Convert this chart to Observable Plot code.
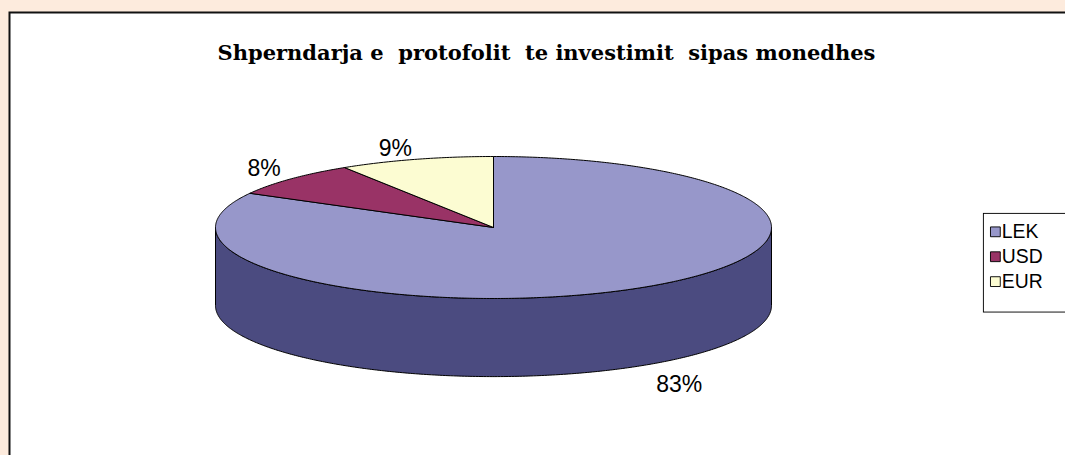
<!DOCTYPE html>
<html><head><meta charset="utf-8">
<script src="https://cdn.jsdelivr.net/npm/d3@7"></script>
<script src="https://cdn.jsdelivr.net/npm/@observablehq/plot@0.6"></script>
<style>
body{margin:0;background:#FDEBDD;}
#wrap{position:relative;width:1065px;height:455px;overflow:hidden;}
#chart svg{display:block;}
#legend{position:absolute;left:982px;top:212px;}
#legend svg{display:block;overflow:visible;}
</style></head><body><div id="wrap"><div id="chart"></div><div id="legend"></div></div>
<script>
const title = "Shperndarja e\u00a0 protofolit\u00a0 te investimit\u00a0 sipas monedhes";
const categories = ["LEK", "USD", "EUR"];
const values = [83, 8, 9];
const labels = ["83%", "8%", "9%"];
const topColors = ["#9797CA", "#993366", "#FCFCD2"];
const sideColors = ["#4B4B80", "#4D1A33", "#7E7E69"];

const DEPTH = 1.1;
const total = d3.sum(values);
let acc = 0;
const slices = categories.map((c, i) => {
  const a0 = acc / total * 2 * Math.PI; acc += values[i];
  const a1 = acc / total * 2 * Math.PI;
  return {cat: c, i, a0, a1, label: labels[i]};
});
function arc(a0, a1, off) {
  const n = Math.max(2, Math.ceil(Math.abs(a1 - a0) / 0.01));
  return d3.range(n + 1).map(k => { const a = a0 + (a1 - a0) * k / n; return {x: Math.sin(a), y: Math.cos(a) - off}; });
}
const tops = slices.map(s => ({i: s.i, pts: [{x: 0, y: 0}, ...arc(s.a0, s.a1, 0), {x: 0, y: 0}]}));
const sides = slices.map(s => {
  const lo = Math.max(s.a0, Math.PI / 2), hi = Math.min(s.a1, 3 * Math.PI / 2);
  if (hi <= lo) return null;
  const top = arc(lo, hi, 0), bot = arc(hi, lo, DEPTH);
  return {i: s.i, pts: [...top, ...bot, top[0]]};
}).filter(Boolean);
const labelPts = slices.map(s => {
  const m = (s.a0 + s.a1) / 2;
  const front = Math.cos(m) < 0;
  const k = front ? 1.15 : 1.05;
  let y = Math.cos(m) * k; if (front) y -= DEPTH;
  return {x: Math.sin(m) * k, y, label: s.label, left: Math.sin(m) < 0, front};
});
const labelMarks = [];
for (const left of [true, false]) for (const front of [true, false]) {
  labelMarks.push(Plot.text(labelPts.filter(d => d.left === left && d.front === front), {
    x: "x", y: "y", text: "label",
    textAnchor: left ? "end" : "start", lineAnchor: front ? "top" : "bottom",
    fontSize: 23, fontFamily: "Liberation Sans", fill: "#000"
  }));
}

const chart = Plot.plot({
  width: 1065, height: 455,
  marginLeft: 9, marginTop: 12, marginRight: -10, marginBottom: -10,
  x: {domain: [-1, 1], range: [215, 771], axis: null},
  y: {domain: [-1, 1], range: [298, 156], axis: null},
  style: {background: "#FDEBDD", overflow: "hidden"},
  marks: [
    Plot.frame({fill: "white", stroke: "#111", strokeWidth: 2}),
    Plot.text([title], {frameAnchor: "top", dx: 4, dy: 33, text: d => d, fontWeight: "bold", fontFamily: "DejaVu Serif", fontSize: 21, fill: "#000"}),
    ...sides.map(s => Plot.line(s.pts, {x: "x", y: "y", fill: sideColors[s.i], stroke: "#000", strokeWidth: 1})),
    ...tops.map(s => Plot.line(s.pts, {x: "x", y: "y", fill: topColors[s.i], stroke: "#000", strokeWidth: 1})),
    ...labelMarks
  ]
});
document.getElementById("chart").appendChild(chart);

const legend = Plot.plot({
  width: 90, height: 109,
  marginLeft: 1, marginTop: 1, marginBottom: 1, marginRight: -10,
  y: {type: "point", domain: categories, range: [21, 75], padding: 0, axis: null},
  color: {domain: categories, range: topColors},
  marks: [
    Plot.frame({fill: "white", stroke: "#000", strokeWidth: 1}),
    Plot.dot(categories, {y: d => d, frameAnchor: "left", dx: 13, symbol: "square", r: 6, fill: d => d, stroke: "#000", strokeWidth: 1}),
    Plot.text(categories, {y: d => d, text: d => d, frameAnchor: "left", dx: 20, textAnchor: "start", fontSize: 21, fontFamily: "Liberation Sans", fill: "#000"})
  ]
});
document.getElementById("legend").appendChild(legend);
</script></body></html>
